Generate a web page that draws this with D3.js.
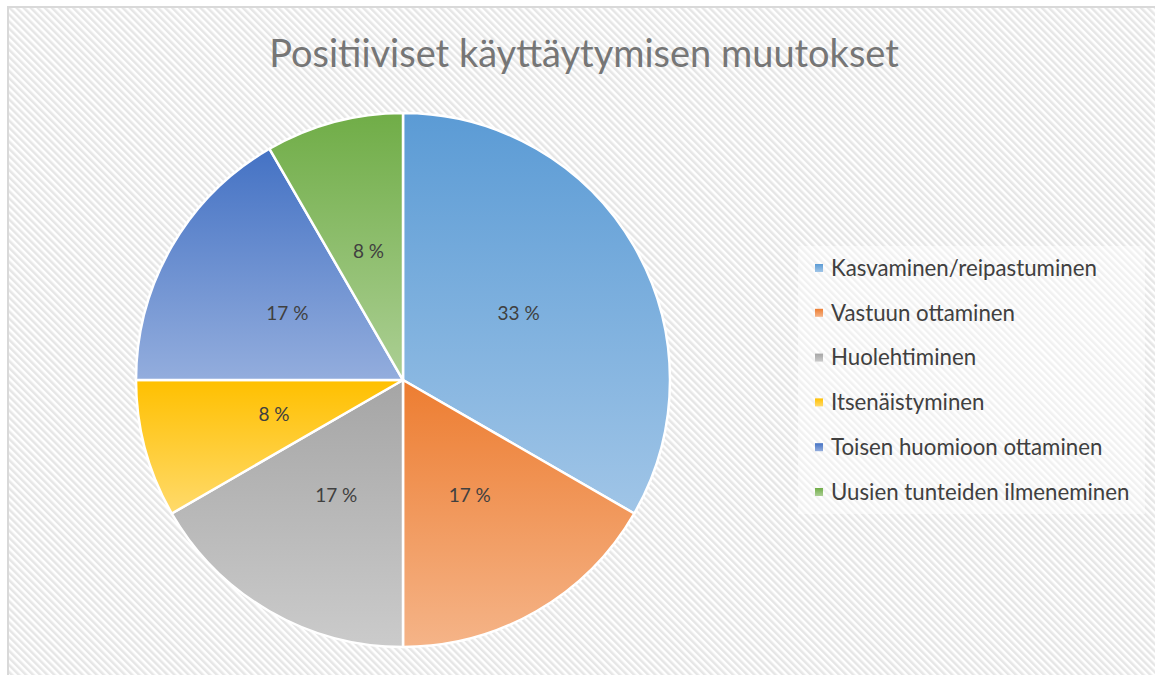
<!DOCTYPE html>
<html>
<head>
<meta charset="utf-8">
<script src="https://cdn.jsdelivr.net/npm/d3@7"></script>
<style>
  body { margin: 0; background: #fff; }
  text { font-family: Lato, "Open Sans", sans-serif; }
</style>
</head>
<body>
<div id="chart"></div>
<script>
const categories = [
  "Kasvaminen/reipastuminen",
  "Vastuun ottaminen",
  "Huolehtiminen",
  "Itsenäistyminen",
  "Toisen huomioon ottaminen",
  "Uusien tunteiden ilmeneminen"
];
const values = [4, 2, 2, 1, 2, 1];
const colors = ["#5b9bd5", "#ed7d31", "#a5a5a5", "#ffc000", "#4472c4", "#70ad47"];
const title = "Positiiviset käyttäytymisen muutokset";

const width = 1155, height = 675;
const cx = 403, cy = 380, radius = 267;

const svg = d3.select("#chart").append("svg")
    .attr("width", width)
    .attr("height", height);

const defs = svg.append("defs");

// hatched background
const hatch = defs.append("pattern")
    .attr("id", "hatch")
    .attr("patternUnits", "userSpaceOnUse")
    .attr("width", 5)
    .attr("height", 5)
    .attr("patternTransform", "rotate(-45)");
hatch.append("rect").attr("width", 5).attr("height", 5).attr("fill", "#ffffff");
hatch.append("rect").attr("width", 2.5).attr("height", 5).attr("fill", "#e6e6e6");

svg.append("rect")
    .attr("x", 8).attr("y", 7)
    .attr("width", width).attr("height", height)
    .attr("fill", "url(#hatch)")
    .attr("stroke", "#d9d9d9")
    .attr("stroke-width", 2);

// gradients for slices (dark at top, lighter at bottom)
colors.forEach((c, i) => {
  const g = defs.append("linearGradient")
      .attr("id", "grad" + i)
      .attr("x1", 0).attr("y1", 0).attr("x2", 0).attr("y2", 1);
  g.append("stop").attr("offset", "0%").attr("stop-color", c);
  g.append("stop").attr("offset", "100%")
      .attr("stop-color", d3.interpolateRgb(c, "#ffffff")(0.42));
});

// title
const titleText = svg.append("text")
    .attr("x", 584)
    .attr("y", 67)
    .attr("text-anchor", "middle")
    .attr("fill", "#767676")
    .attr("font-size", 36)
    .text(title);
let tw = titleText.node().getComputedTextLength();
titleText.attr("font-size", 36 * 630 / tw);

// pie
const pie = d3.pie().sort(null).value(d => d);
const arc = d3.arc().innerRadius(0).outerRadius(radius);
const labelArc = d3.arc().innerRadius(radius * 0.5).outerRadius(radius * 0.5);
const total = d3.sum(values);

const graph = svg.append("g").attr("transform", `translate(${cx},${cy})`);

const arcs = pie(values);

graph.selectAll("path")
    .data(arcs)
    .join("path")
    .attr("d", arc)
    .attr("fill", (d, i) => `url(#grad${i})`)
    .attr("stroke", "#ffffff")
    .attr("stroke-width", 2.5)
    .attr("stroke-linejoin", "round");

graph.selectAll("text.lbl")
    .data(arcs)
    .join("text")
    .attr("class", "lbl")
    .attr("transform", d => `translate(${labelArc.centroid(d)})`)
    .attr("text-anchor", "middle")
    .attr("dy", "0.35em")
    .attr("font-size", 19)
    .attr("fill", "#404040")
    .text(d => Math.round(d.data / total * 100) + " %");

// legend
svg.append("rect")
    .attr("x", 798).attr("y", 246)
    .attr("width", 347).attr("height", 268)
    .attr("fill", "#ffffff")
    .attr("opacity", 0.45);

const legend = svg.append("g").attr("transform", "translate(815,268)");
const rowH = 44.8;
const items = legend.selectAll("g")
    .data(categories)
    .join("g")
    .attr("transform", (d, i) => `translate(0,${i * rowH})`);

items.append("rect")
    .attr("x", 0).attr("y", -4)
    .attr("width", 8).attr("height", 8)
    .attr("fill", (d, i) => `url(#grad${i})`);

const legendTexts = items.append("text")
    .attr("x", 16)
    .attr("dy", "0.35em")
    .attr("font-size", 19)
    .attr("fill", "#404040")
    .text(d => d);

const lw = legendTexts.nodes()[0].getComputedTextLength();
legendTexts.attr("font-size", 19 * 266 / lw);
</script>
</body>
</html>
